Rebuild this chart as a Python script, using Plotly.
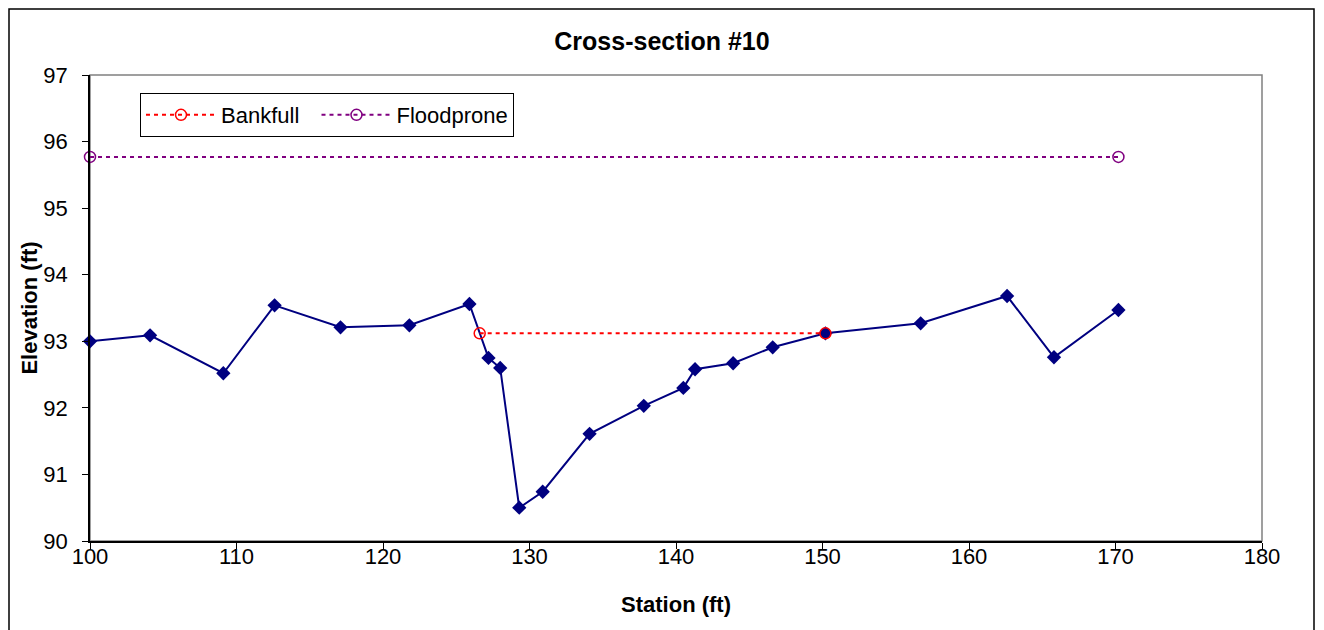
import plotly.graph_objects as go

station = [100.0, 104.1, 109.1, 112.6, 117.1, 121.8, 125.9, 127.2, 128.0, 129.3, 130.9,
           134.1, 137.8, 140.5, 141.3, 143.9, 146.6, 150.2, 156.7, 162.6, 165.8, 170.2]
elevation = [93.00, 93.09, 92.52, 93.54, 93.21, 93.24, 93.56, 92.75, 92.60, 90.50, 90.74,
             91.61, 92.03, 92.30, 92.58, 92.67, 92.91, 93.12, 93.27, 93.68, 92.76, 93.47]

bankfull_x = [126.6, 150.2]
bankfull_y = [93.12, 93.12]
floodprone_x = [100.0, 170.2]
floodprone_y = [95.77, 95.77]

FONT = "Liberation Sans, Arial, sans-serif"

# page has an 8px body margin; figure coordinates are offset accordingly
W, H = 1324, 630
L, R, T, B = 82, 70, 67, 97
pw, ph = W - L - R, H - T - B

def px(x):
    return (x - L) / pw

def py(y):
    return (H - B - y) / ph

fig = go.Figure()
fig.add_trace(go.Scatter(
    x=station, y=elevation, mode="lines+markers", showlegend=False,
    line=dict(color="#000080", width=2),
    marker=dict(symbol="diamond", size=11, color="#000080"),
    cliponaxis=False))
fig.add_trace(go.Scatter(
    x=bankfull_x, y=bankfull_y, mode="lines+markers", name="Bankfull\u00a0\u00a0",
    line=dict(color="#FF0000", width=2, dash="4px,4px"),
    marker=dict(symbol="circle", size=11, color=["rgba(0,0,0,0)", "#000080"],
                line=dict(width=1.5, color="#FF0000")),
    cliponaxis=False))
fig.add_trace(go.Scatter(
    x=floodprone_x, y=floodprone_y, mode="lines+markers", name="Floodprone",
    line=dict(color="#800080", width=2, dash="4px,4px"),
    marker=dict(symbol="circle-open", size=11, color="#800080", line=dict(width=1.5)),
    cliponaxis=False))

fig.update_layout(
    width=W, height=H,
    margin=dict(l=L, r=R, t=T, b=B),
    paper_bgcolor="white", plot_bgcolor="white",
    font=dict(family=FONT, size=22, color="black"),
    title=dict(text="<b>Cross-section #10</b>", x=px(662 - 8), xref="paper", xanchor="center",
               y=1 - 33 / H, yanchor="middle", font=dict(size=25)),
    xaxis=dict(range=[100, 180], dtick=10, showgrid=False, zeroline=False,
               showline=True, linecolor="black", linewidth=1.5,
               ticks="outside", ticklen=6, tickcolor="black", ticklabelstandoff=-11,
               title=dict(text="<b>Station (ft)</b>", font=dict(size=22), standoff=28)),
    yaxis=dict(range=[90, 97], dtick=1, showgrid=False, zeroline=False,
               showline=True, linecolor="black", linewidth=1.5,
               ticks="outside", ticklen=6, tickcolor="black", ticklabelstandoff=10,
               title=dict(text="<b>Elevation (ft)</b>", font=dict(size=22), standoff=0)),
    legend=dict(x=px(140 - 8), y=py(93 - 8), xanchor="left", yanchor="top", orientation="h",
                bgcolor="white", bordercolor="black", borderwidth=1,
                font=dict(size=22), itemwidth=70),
    shapes=[
        dict(type="rect", xref="paper", yref="paper", x0=0, x1=1, y0=0, y1=1,
             line=dict(color="#808080", width=1.5), layer="below"),
        dict(type="rect", xref="paper", yref="paper", x0=px(1), x1=px(1306),
             y0=py(700), y1=py(1), line=dict(color="black", width=1.5), layer="below"),
    ],
)

fig.write_html("out.html")
